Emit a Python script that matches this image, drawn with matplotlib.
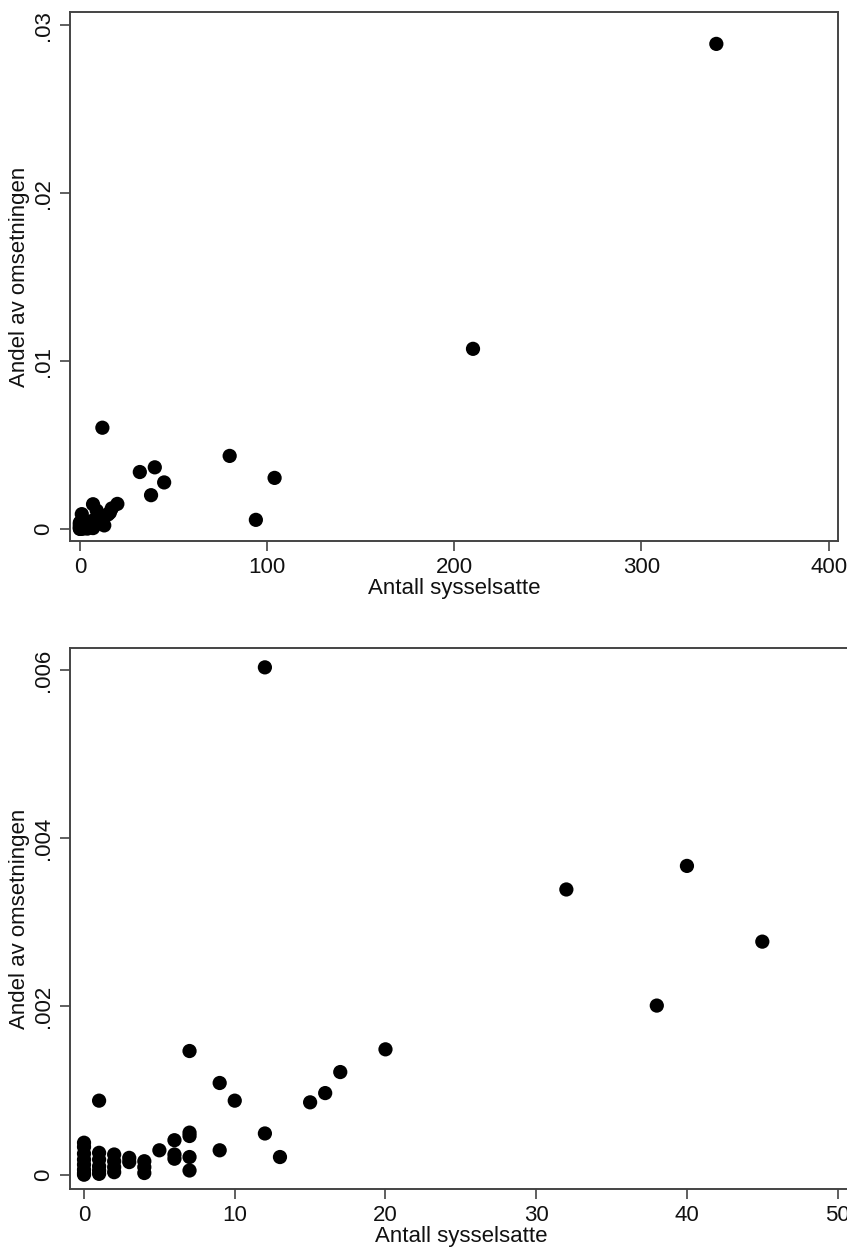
import matplotlib
matplotlib.use("Agg")
import matplotlib.pyplot as plt
import numpy as np

plt.rcParams['font.family'] = ['Liberation Sans', 'DejaVu Sans']

# Antall sysselsatte (x) og andel av omsetningen (y)
sysselsatte = [0, 0, 0, 0, 0, 0, 0, 0,
               1, 1, 1, 1, 1, 1,
               2, 2, 2, 2,
               3, 3,
               4, 4, 4,
               5,
               6, 6, 6,
               7, 7, 7, 7, 7,
               9, 9, 10, 12, 12, 13, 15, 16, 17, 20,
               32, 38, 40, 45, 80, 94, 104, 210, 340]
andel = [0.00038, 0.00033, 0.00025, 0.00018, 0.00012, 0.00006, 0.00002, 0.0,
         0.00088, 0.00026, 0.00018, 0.00010, 0.00005, 0.00001,
         0.00024, 0.00016, 0.00009, 0.00003,
         0.00020, 0.00015,
         0.00016, 0.00009, 0.00002,
         0.00029,
         0.00041, 0.00024, 0.00019,
         0.00147, 0.00050, 0.00046, 0.00021, 0.00005,
         0.00109, 0.00029, 0.00088, 0.00603, 0.00049, 0.00021, 0.00086, 0.00097, 0.00122, 0.00149,
         0.00339, 0.00201, 0.00367, 0.00277, 0.00435, 0.00054, 0.00304, 0.01073, 0.0289]

x = np.array(sysselsatte)
y = np.array(andel)

top_ticks_x = [0, 100, 200, 300, 400]
top_ticks_y = [0, 0.01, 0.02, 0.03]
top_labels_y = ["0", ".01", ".02", ".03"]
bot_ticks_x = [0, 10, 20, 30, 40, 50]
bot_ticks_y = [0, 0.002, 0.004, 0.006]
bot_labels_y = ["0", ".002", ".004", ".006"]

W, H = 847, 1249
fig = plt.figure(figsize=(W / 100, H / 100), dpi=100)

def style(ax):
    for s in ax.spines.values():
        s.set_color("#444444")
        s.set_linewidth(1.4)
    ax.tick_params(direction="out", length=7.5, width=1.2, color="#444444",
                   labelsize=16, labelcolor="#111111", pad=4)
    ax.set_xlabel("Antall sysselsatte", fontsize=16, labelpad=0, color="#111111")
    ax.set_ylabel("Andel av omsetningen", fontsize=16, labelpad=2, color="#111111")

# ========== Øvre panel: alle ==========
ax1 = fig.add_axes([70 / W, 1 - 541 / H, (838 - 70) / W, (541 - 12) / H])
ax1.scatter(x, y, s=105, color="black", edgecolors="none", zorder=3)
ax1.set_xlim(-5.3, 405)
ax1.set_ylim(-0.00072, 0.0308)
ax1.set_xticks(top_ticks_x)
ax1.set_yticks(top_ticks_y)
ax1.set_yticklabels(top_labels_y, rotation=90, va="center")
style(ax1)

# ========== Nedre panel: under 50 sysselsatte ==========
m = x <= 50
ax2 = fig.add_axes([70 / W, 1 - 1189 / H, (852 - 70) / W, (1189 - 648) / H])
ax2.scatter(x[m], y[m], s=105, color="black", edgecolors="none", zorder=3, clip_on=False)
ax2.set_xlim(-0.93, 50.95)
ax2.set_ylim(-0.00017, 0.00626)
ax2.set_xticks(bot_ticks_x)
ax2.set_yticks(bot_ticks_y)
ax2.set_yticklabels(bot_labels_y, rotation=90, va="center")
style(ax2)

fig.savefig("out.png", dpi=100)
